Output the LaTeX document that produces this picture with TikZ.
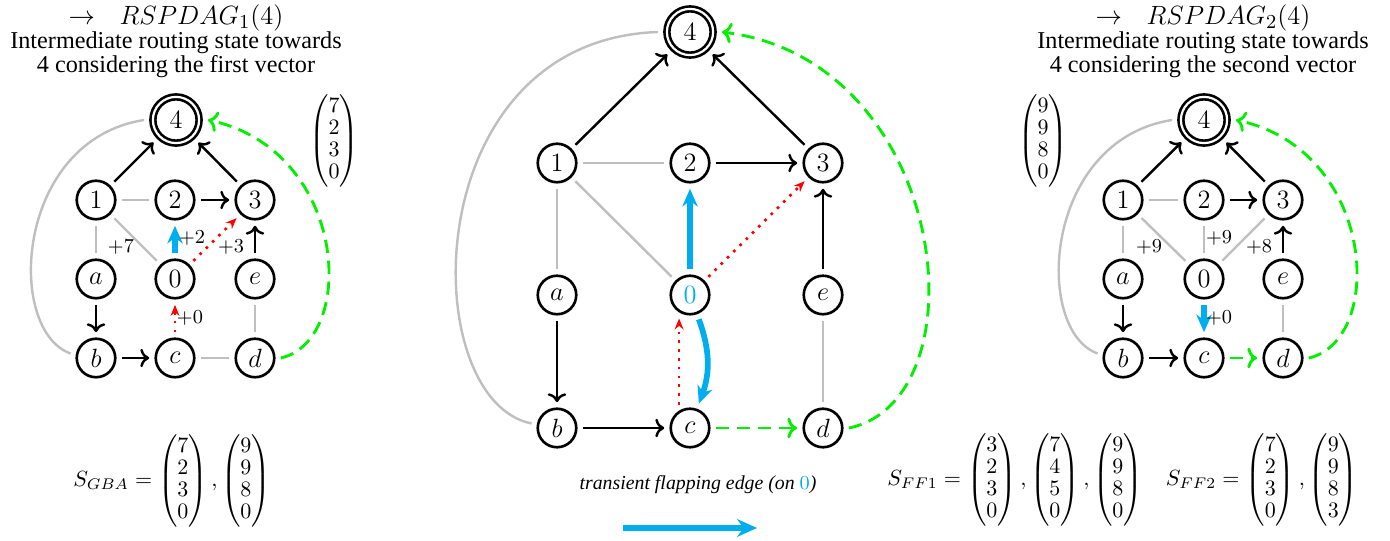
\documentclass[tikz,border=0pt]{standalone}
\usepackage{amsmath}
\usepackage[no-math]{fontspec}
\setmainfont{Liberation Serif}
\usetikzlibrary{arrows.meta}
\definecolor{fblue}{RGB}{0,174,239}
\definecolor{fgreen}{RGB}{0,240,0}
\definecolor{egray}{RGB}{191,191,191}
\tikzset{
  vtx/.style={circle, draw, line width=1.2pt, minimum size=17.5pt, inner sep=0pt, outer sep=3pt, font=\fontsize{11.5}{11.5}\selectfont},
  dst/.style={vtx, double, double distance=1pt, minimum size=21pt, outer sep=4pt},
  darr/.style={->, line width=1.1pt, black},
  gline/.style={egray, line width=1.1pt},
  barr/.style={fblue, line width=2.6pt, -{Stealth[length=8pt,width=7pt]}},
  rarr/.style={red, line width=1.2pt, dash pattern=on 1.2pt off 2.8pt, -{Stealth[length=5pt,width=4pt]}},
  grarr/.style={fgreen, line width=1.3pt, dash pattern=on 6pt off 3.5pt, ->},
  lbl/.style={font=\fontsize{9.5}{9.5}\selectfont, inner sep=0pt},
  ttl/.style={font=\fontsize{11}{11}\selectfont, inner sep=0pt, anchor=base},
  ttm/.style={font=\fontsize{13}{13}\selectfont, inner sep=0pt, anchor=base},
  mtx/.style={font=\fontsize{10}{10}\selectfont, inner sep=0pt}
}
\begin{document}
\begin{tikzpicture}[x=0.4545pt, y=-0.4545pt]
\useasboundingbox (0,0) rectangle (1390,541);

% ---------- titles ----------
\node[ttm] (t1a) at (176,25) {$\rightarrow\hspace{0.6em}RSPDAG_1(4)$};
\node[ttl] (t1b) at (176,49) {Intermediate routing state towards};
\node[ttl] (t1c) at (176,73) {4 considering the first vector};
\node[ttm] (t2a) at (1203,25) {$\rightarrow\hspace{0.6em}RSPDAG_2(4)$};
\node[ttl] (t2b) at (1203,49) {Intermediate routing state towards};
\node[ttl] (t2c) at (1203,73) {4 considering the second vector};

% ---------- left graph ----------
\node[dst] (L4) at (176,120) {$4$};
\node[vtx] (L1) at (96,200) {$1$};
\node[vtx] (L2) at (175,200) {$2$};
\node[vtx] (L3) at (255,200) {$3$};
\node[vtx] (La) at (96,279) {$a$};
\node[vtx] (L0) at (175,279) {$0$};
\node[vtx] (Le) at (255,279) {$e$};
\node[vtx] (Lb) at (96,358) {$b$};
\node[vtx] (Lc) at (175,358) {$c$};
\node[vtx] (Ld) at (255,358) {$d$};

\draw[gline] (Lb.170) .. controls (5,330) and (15,140) .. (L4.west);
\draw[gline] (L1) -- (L2);
\draw[gline] (L1) -- (La);
\draw[gline] (L1) -- (L0);
\draw[gline] (Le) -- (Ld);
\draw[gline] (Lc) -- (Ld);
\draw[darr] (L1) -- (L4);
\draw[darr] (L3) -- (L4);
\draw[darr] (L2) -- (L3);
\draw[darr] (Le) -- (L3);
\draw[darr] (La) -- (Lb);
\draw[darr] (Lb) -- (Lc);
\draw[barr] (L0) -- (L2);
\draw[rarr] (L0) -- (L3);
\draw[rarr] (Lc) -- (L0);
\draw[grarr] (Ld.east) .. controls (358,340) and (348,150) .. (L4.east);
\node[lbl] (l7) at (121,247) {$+7$};
\node[lbl] (l2) at (192,238) {$+2$};
\node[lbl] (l3) at (231,247) {$+3$};
\node[lbl] (l0) at (190,318) {$+0$};
\node[mtx] (Lv) at (334,141) {$\begin{pmatrix}7\\2\\3\\0\end{pmatrix}$};
\node[mtx] (Sg) at (172,481) {$S_{GBA} = \begin{pmatrix}7\\2\\3\\0\end{pmatrix}, \begin{pmatrix}9\\9\\8\\0\end{pmatrix}$};

% ---------- middle graph ----------
\node[dst] (M4) at (690,32) {$4$};
\node[vtx] (M1) at (557,163) {$1$};
\node[vtx] (M2) at (690,163) {$2$};
\node[vtx] (M3) at (823,163) {$3$};
\node[vtx] (Ma) at (557,295) {$a$};
\node[vtx] (M0) at (690,295) {$\color{fblue}0$};
\node[vtx] (Me) at (823,295) {$e$};
\node[vtx] (Mb) at (557,428) {$b$};
\node[vtx] (Mc) at (690,428) {$c$};
\node[vtx] (Md) at (823,428) {$d$};

\draw[gline] (Mb.170) .. controls (415,400) and (415,40) .. (M4.west);
\draw[gline] (M1) -- (M2);
\draw[gline] (M1) -- (Ma);
\draw[gline] (M1) -- (M0);
\draw[gline] (Me) -- (Md);
\draw[darr] (M1) -- (M4);
\draw[darr] (M3) -- (M4);
\draw[darr] (M2) -- (M3);
\draw[darr] (Me) -- (M3);
\draw[darr] (Ma) -- (Mb);
\draw[darr] (Mb) -- (Mc);
\draw[barr] (M0) -- (M2);
\draw[barr] (M0) to[bend left=20] (Mc);
\draw[rarr] (M0) -- (M3);
\draw[rarr] (Mc.115) -- (M0.245);
\draw[grarr] (Mc) -- (Md);
\draw[grarr] (Md.east) .. controls (985,400) and (950,60) .. (M4.east);
\node[lbl, font=\fontsize{9}{9}\selectfont\itshape] (cap) at (698,485) {transient flapping edge (on {\color{fblue}$0$})};
\coordinate (ba1) at (623,528);
\coordinate (ba2) at (757,528);
\draw[fblue, line width=2.6pt, -{Stealth[length=9pt,width=8pt]}] (ba1) -- (ba2);

% ---------- right graph ----------
\node[dst] (R4) at (1204,120) {$4$};
\node[vtx] (R1) at (1123,200) {$1$};
\node[vtx] (R2) at (1204,200) {$2$};
\node[vtx] (R3) at (1283,200) {$3$};
\node[vtx] (Ra) at (1123,279) {$a$};
\node[vtx] (R0) at (1204,279) {$0$};
\node[vtx] (Re) at (1283,279) {$e$};
\node[vtx] (Rb) at (1123,358) {$b$};
\node[vtx] (Rc) at (1204,358) {$c$};
\node[vtx] (Rd) at (1283,358) {$d$};

\draw[gline] (Rb.170) .. controls (1033,330) and (1043,140) .. (R4.west);
\draw[gline] (R1) -- (R2);
\draw[gline] (R1) -- (Ra);
\draw[gline] (R1) -- (R0);
\draw[gline] (R2) -- (R0);
\draw[gline] (R3) -- (R0);
\draw[gline] (Re) -- (Rd);
\draw[darr] (R1) -- (R4);
\draw[darr] (R3) -- (R4);
\draw[darr] (R2) -- (R3);
\draw[darr] (Re) -- (R3);
\draw[darr] (Ra) -- (Rb);
\draw[darr] (Rb) -- (Rc);
\draw[barr] (R0) -- (Rc);
\draw[grarr] (Rc) -- (Rd);
\draw[grarr] (Rd.east) .. controls (1386,340) and (1376,150) .. (R4.east);
\node[lbl] (r9a) at (1149,247) {$+9$};
\node[lbl] (r9b) at (1219,238) {$+9$};
\node[lbl] (r8) at (1259,247) {$+8$};
\node[lbl] (r0) at (1219,318) {$+0$};
\node[mtx] (Rv) at (1043,141) {$\begin{pmatrix}9\\9\\8\\0\end{pmatrix}$};
\node[mtx] (Sf1) at (1015,480) {$S_{FF1} = \begin{pmatrix}3\\2\\3\\0\end{pmatrix}, \begin{pmatrix}7\\4\\5\\0\end{pmatrix}, \begin{pmatrix}9\\9\\8\\0\end{pmatrix}$};
\node[mtx] (Sf2) at (1262,480) {$S_{FF2} = \begin{pmatrix}7\\2\\3\\0\end{pmatrix}, \begin{pmatrix}9\\9\\8\\3\end{pmatrix}$};
\end{tikzpicture}
\end{document}
